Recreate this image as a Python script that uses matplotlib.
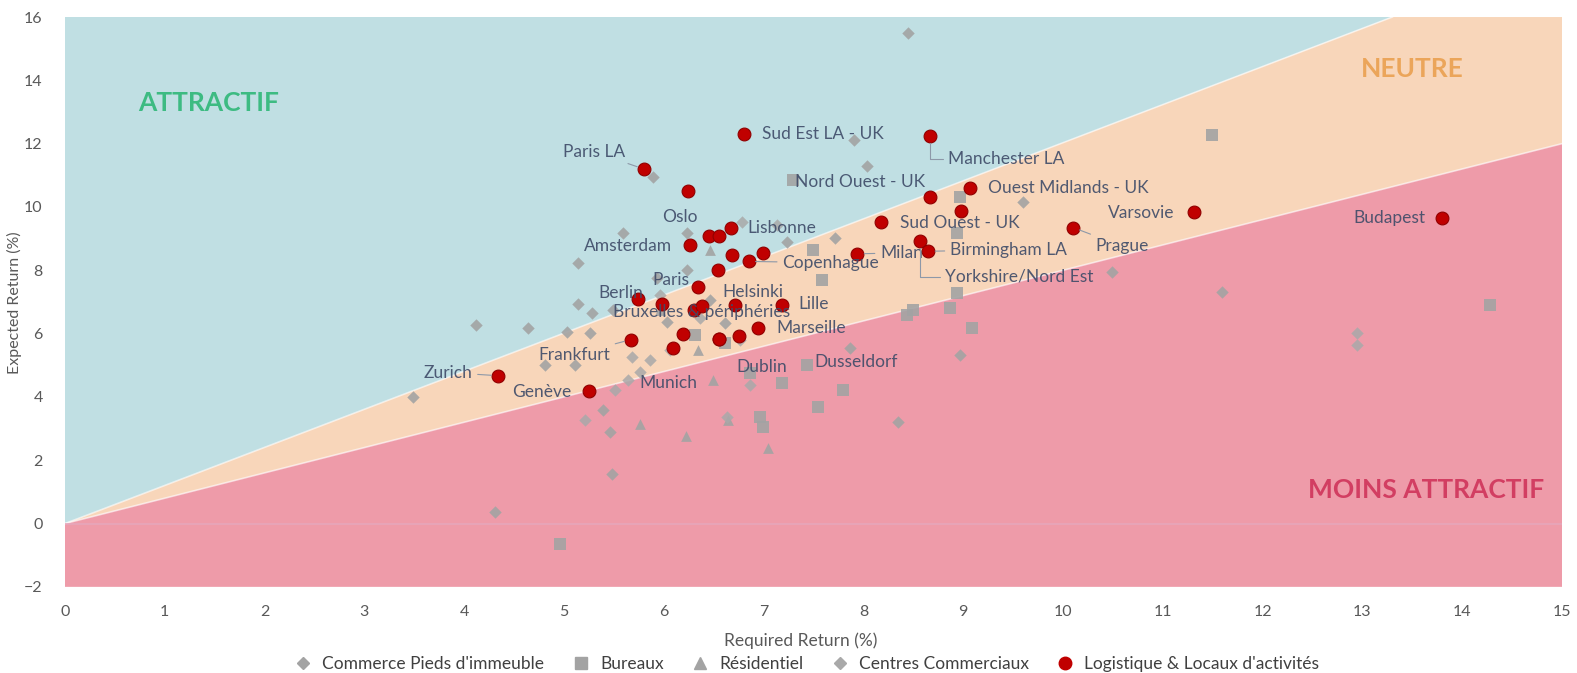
import numpy as np
import matplotlib
matplotlib.use("Agg")
import matplotlib.pyplot as plt
from matplotlib.patches import Polygon
from matplotlib.lines import Line2D

plt.rcParams['font.family'] = ['Lato', 'DejaVu Sans']

# --- data (Required Return %, Expected Return %) ---
commerce_x = [8.45, 3.49, 4.31, 4.12, 4.64, 5.14, 5.59, 5.14, 5.28, 5.03, 5.26, 5.11, 4.81,
              5.89, 5.49, 5.48, 5.46, 5.39, 8.35, 9.60, 10.49, 11.59, 7.91, 8.04, 6.23,
              5.93, 6.23, 6.61, 6.46, 6.03, 7.23, 7.72, 7.87, 8.97]
commerce_y = [15.50, 4.00, 0.38, 6.28, 6.19, 8.24, 9.18, 6.94, 6.66, 6.06, 6.03, 5.02, 5.02,
              10.95, 6.75, 1.55, 2.90, 3.60, 3.22, 10.16, 7.95, 7.32, 12.12, 11.30, 9.18,
              7.77, 8.02, 6.34, 7.07, 6.38, 8.90, 9.03, 5.56, 5.33]

bureaux_x = [11.49, 14.28, 7.29, 7.50, 7.59, 8.97, 8.94, 8.94, 8.87, 8.44, 8.50, 9.09,
             7.43, 7.18, 7.80, 7.55, 6.99, 6.31, 6.86, 6.96, 4.96, 6.61]
bureaux_y = [12.28, 6.91, 10.86, 8.65, 7.70, 10.32, 9.19, 7.29, 6.82, 6.60, 6.75, 6.19,
             5.02, 4.45, 4.23, 3.69, 3.06, 5.97, 4.77, 3.38, -0.66, 5.71]

resid_x = [6.46, 5.76, 6.22, 7.04, 6.49, 6.64, 5.96, 6.34]
resid_y = [8.65, 3.13, 2.75, 2.40, 4.55, 3.28, 6.75, 5.49]

centres_x = [5.68, 5.86, 5.76, 5.64, 6.06, 5.51, 5.21, 6.63, 6.86, 12.95, 12.95, 6.78,
             7.13, 5.96, 6.36, 6.76]
centres_y = [5.27, 5.18, 4.80, 4.55, 5.49, 4.23, 3.28, 3.38, 4.39, 6.03, 5.65, 9.53,
             9.44, 7.23, 6.50, 5.81]

city_names = ['Sud Est LA - UK', 'Manchester LA', 'Paris LA', 'Oslo', 'Ouest Midlands - UK',
              'Nord Ouest - UK', 'Sud Ouest - UK', '', 'Varsovie', 'Prague', 'Budapest',
              '', '', 'Lisbonne', 'Amsterdam', '', 'Copenhague', '', 'Milan',
              'Yorkshire/Nord Est', 'Birmingham LA', '', 'Paris', 'Berlin', '',
              'Bruxelles & périphéries', '', 'Helsinki', 'Lille', 'Frankfurt', 'Munich',
              '', '', 'Dublin', 'Marseille', 'Zurich', 'Genève', 'Dusseldorf']
city_x = [6.80, 8.67, 5.80, 6.24, 9.07, 8.67, 8.18, 8.98, 11.31, 10.10, 13.80,
          6.45, 6.55, 6.67, 6.26, 6.68, 6.85, 6.99, 7.94,
          8.57, 8.65, 6.54, 6.34, 5.74, 5.98,
          6.30, 6.38, 6.71, 7.18, 5.67, 6.09,
          6.19, 6.55, 6.75, 6.94, 4.34, 5.25, 6.55]
city_y = [12.30, 12.23, 11.20, 10.51, 10.60, 10.33, 9.51, 9.86, 9.83, 9.35, 9.65,
          9.07, 9.07, 9.33, 8.79, 8.49, 8.28, 8.56, 8.52,
          8.91, 8.60, 8.00, 7.46, 7.10, 6.94,
          6.73, 6.88, 6.89, 6.91, 5.81, 5.55,
          5.99, 5.84, 5.91, 6.18, 4.67, 4.18, 5.84]

# zone boundaries: required/expected ratio lines
upper_slope = 16 / 13.3
lower_slope = 0.8

# --- label layout (text position in data units, alignment) ---
label_pos = {
    'Sud Est LA - UK': (6.98, 12.32, 'left'),
    'Manchester LA': (8.85, 11.52, 'left'),
    'Paris LA': (5.61, 11.74, 'right'),
    'Nord Ouest - UK': (7.31, 10.80, 'left'),
    'Ouest Midlands - UK': (9.25, 10.60, 'left'),
    'Oslo': (6.16, 9.69, 'center'),
    'Lisbonne': (6.84, 9.32, 'left'),
    'Sud Ouest - UK': (8.37, 9.50, 'left'),
    'Varsovie': (11.12, 9.82, 'right'),
    'Budapest': (13.63, 9.65, 'right'),
    'Amsterdam': (6.08, 8.76, 'right'),
    'Copenhague': (7.19, 8.24, 'left'),
    'Milan': (8.17, 8.55, 'left'),
    'Birmingham LA': (8.87, 8.65, 'left'),
    'Prague': (10.32, 8.77, 'left'),
    'Yorkshire/Nord Est': (8.82, 7.80, 'left'),
    'Paris': (5.89, 7.70, 'left'),
    'Helsinki': (6.59, 7.32, 'left'),
    'Berlin': (5.34, 7.29, 'left'),
    'Bruxelles & périphéries': (5.49, 6.69, 'left'),
    'Lille': (7.35, 6.94, 'left'),
    'Marseille': (7.13, 6.19, 'left'),
    'Frankfurt': (4.74, 5.33, 'left'),
    'Zurich': (3.59, 4.77, 'left'),
    'Genève': (4.48, 4.14, 'left'),
    'Munich': (5.76, 4.45, 'left'),
    'Dublin': (6.73, 4.96, 'left'),
    'Dusseldorf': (7.51, 5.11, 'left'),
}
with_leader = ['Paris LA', 'Manchester LA', 'Zurich', 'Frankfurt', 'Prague',
               'Yorkshire/Nord Est', 'Copenhague', 'Milan', 'Birmingham LA']
elbow_leader = ['Manchester LA', 'Yorkshire/Nord Est']

BLUE = '#c0dfe3'
ORANGE = '#f8d6ba'
PINK = '#ee9ba9'
GREY = '#a3a3a3'
RED = '#c00000'
TXT = '#3e4b68'

fig = plt.figure(figsize=(15.77, 6.73), dpi=100)
ax = fig.add_axes([0.0412, 0.128, 0.9493, 0.8467])

xmin, xmax, ymin, ymax = 0, 15, -2, 16
x_top = ymax / upper_slope
ax.add_patch(Polygon([(0, 0), (0, ymax), (x_top, ymax)], closed=True, fc=BLUE, ec='none', zorder=0))
ax.add_patch(Polygon([(0, 0), (x_top, ymax), (xmax, ymax), (xmax, lower_slope * xmax)],
                     closed=True, fc=ORANGE, ec='none', zorder=0))
ax.add_patch(Polygon([(0, 0), (xmax, lower_slope * xmax), (xmax, ymin), (0, ymin)],
                     closed=True, fc=PINK, ec='none', zorder=0))
xs = np.array([0, xmax])
ax.plot([0, x_top], [0, ymax], color='white', lw=1.2, alpha=0.6, zorder=1)
ax.plot(xs, lower_slope * xs, color='white', lw=1.2, alpha=0.6, zorder=1)
ax.axhline(0, color='#e6a6bb', lw=1.2, zorder=1)

ax.scatter(commerce_x, commerce_y, marker='D', s=40, color=GREY, alpha=0.9, lw=0, zorder=2)
ax.scatter(bureaux_x, bureaux_y, marker='s', s=75, color=GREY, alpha=0.9, lw=0, zorder=2)
ax.scatter(resid_x, resid_y, marker='^', s=60, color=GREY, alpha=0.9, lw=0, zorder=2)
ax.scatter(centres_x, centres_y, marker='D', s=40, color='#a9a9a9', alpha=0.85, lw=0, zorder=2)
ax.scatter(city_x, city_y, marker='o', s=85, color=RED, edgecolor='#900000', lw=0.8, zorder=3)

for name, cx, cy in zip(city_names, city_x, city_y):
    if not name:
        continue
    tx, ty, ha = label_pos[name]
    arrow = None
    if name in with_leader:
        arrow = dict(arrowstyle='-', color='#8d98a8', lw=0.8, shrinkA=2, shrinkB=5)
        if name in elbow_leader:
            arrow['connectionstyle'] = 'angle,angleA=0,angleB=90,rad=0'
    ax.annotate(name, xy=(cx, cy), xytext=(tx, ty), ha=ha, va='center', fontsize=12.5,
                color=TXT, alpha=0.9, zorder=4, arrowprops=arrow)

ax.text(0.73, 13.29, 'ATTRACTIF', fontsize=19, fontweight='bold', color='#3dbb82', va='center')
ax.text(13.5, 14.35, 'NEUTRE', fontsize=19, fontweight='bold', color='#eba55a', ha='center', va='center')
ax.text(14.82, 1.05, 'MOINS ATTRACTIF', fontsize=19, fontweight='bold', color='#d23e62', ha='right', va='center')

ax.set_xlim(xmin, xmax)
ax.set_ylim(ymin, ymax)
ax.set_xticks(range(0, 16))
ax.set_yticks(range(-2, 17, 2))
ax.tick_params(length=0, labelsize=11.5, colors='#595959')
ax.tick_params(axis='x', pad=13)
ax.tick_params(axis='y', pad=16)
for sp in ax.spines.values():
    sp.set_visible(False)

fig.text(0.508, 0.048, 'Required Return (%)', ha='center', va='center', fontsize=12.5, color='#595959')
fig.text(0.009, 0.55, 'Expected Return (%)', rotation=90, ha='center', va='center', fontsize=11.5, color='#595959')

handles = [
    Line2D([], [], marker='D', ls='none', color=GREY, markersize=6, label="Commerce Pieds d'immeuble"),
    Line2D([], [], marker='s', ls='none', color=GREY, markersize=9, label='Bureaux'),
    Line2D([], [], marker='^', ls='none', color=GREY, markersize=9, label='Résidentiel'),
    Line2D([], [], marker='D', ls='none', color='#a9a9a9', markersize=6, label='Centres Commerciaux'),
    Line2D([], [], marker='o', ls='none', color=RED, markersize=9, label="Logistique & Locaux d'activités"),
]
fig.legend(handles=handles, loc='center', bbox_to_anchor=(0.509, 0.014), ncol=5, frameon=False,
           fontsize=12.5, labelcolor='#404040', handletextpad=0.1, columnspacing=1.1)

fig.savefig('out.png', dpi=100)
